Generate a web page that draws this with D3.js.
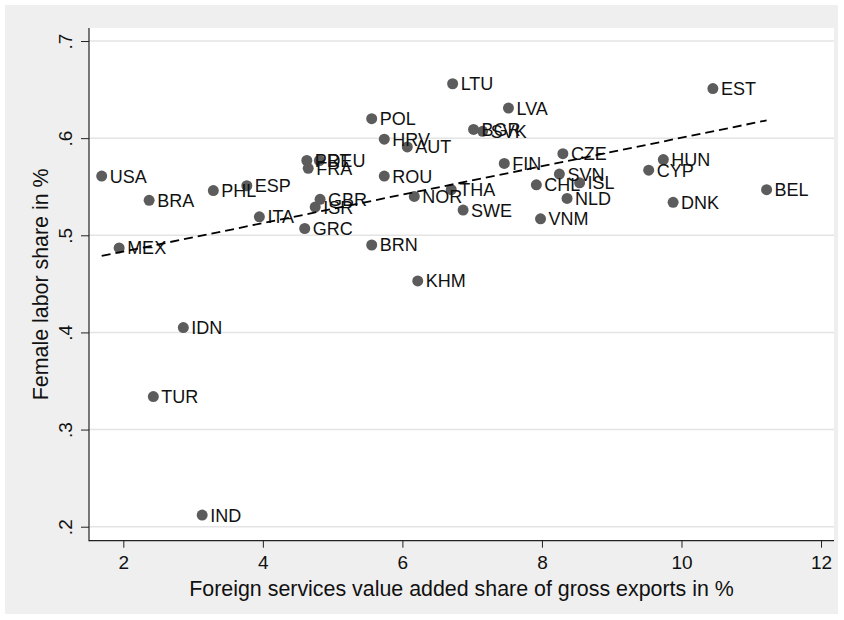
<!DOCTYPE html>
<html>
<head>
<meta charset="utf-8">
<script src="https://cdn.jsdelivr.net/npm/d3@7"></script>
<style>
  html, body { margin: 0; padding: 0; background: #ffffff; }
  svg { display: block; }
  text { font-family: "Liberation Sans", Arial, Helvetica, sans-serif; }
</style>
</head>
<body>
<svg id="chart" width="844" height="620"></svg>
<script>
// ---- data ----
const countries = ["USA","MEX","BRA","TUR","IDN","IND","PHL","ESP","ITA","GRC",
  "PRT","DEU","FRA","GBR","ISR","POL","HRV","AUT","ROU","BRN","NOR","KHM",
  "LTU","THA","SWE","BGR","SVK","LVA","FIN","CHL","CZE","SVN","ISL","NLD",
  "VNM","CYP","HUN","DNK","BEL","EST"];
const servicesShare = [1.69,1.94,2.37,2.43,2.86,3.13,3.29,3.77,3.95,4.60,
  4.63,4.81,4.65,4.82,4.75,5.56,5.74,6.07,5.74,5.56,6.17,6.22,
  6.72,6.70,6.87,7.02,7.15,7.52,7.46,7.92,8.30,8.25,8.54,8.36,
  7.98,9.53,9.74,9.88,11.22,10.45];
const femaleShare = [0.561,0.487,0.536,0.334,0.405,0.212,0.546,0.551,0.519,0.507,
  0.577,0.577,0.569,0.537,0.529,0.620,0.599,0.591,0.561,0.490,0.540,0.453,
  0.656,0.547,0.526,0.609,0.607,0.631,0.574,0.552,0.584,0.563,0.554,0.538,
  0.517,0.567,0.578,0.534,0.547,0.651];
// fitted line endpoints
const fitX = [1.69, 11.22];
const fitY = [0.4787, 0.6183];
const xTicks = [2,4,6,8,10,12];
const yTicks = [0.2,0.3,0.4,0.5,0.6,0.7];
const yTickLabels = [".2",".3",".4",".5",".6",".7"];
const xTitle = "Foreign services value added share of gross exports in %";
const yTitle = "Female labor share in %";

// ---- layout ----
const svg = d3.select("#chart");
const L = 89, R = 834, T = 28, B = 540.7;
const x = d3.scaleLinear().domain([1.508, 12.186]).range([L, R]);
const y = d3.scaleLinear().domain([0.1856, 0.7134]).range([B, T]);

svg.append("rect").attr("x",5).attr("y",5).attr("width",833).attr("height",609)
  .attr("fill","#efefef");
svg.append("rect").attr("x",L).attr("y",T).attr("width",R-L).attr("height",B-T)
  .attr("fill","#ffffff");

// gridlines
svg.append("g").selectAll("line").data(yTicks).join("line")
  .attr("x1", L).attr("x2", R)
  .attr("y1", d => y(d)).attr("y2", d => y(d))
  .attr("stroke", "#e4e4e4").attr("stroke-width", 1.5);

// axes
const yAxis = svg.append("g").attr("transform", `translate(${L},0)`)
  .call(d3.axisLeft(y).tickValues(yTicks).tickSize(8).tickPadding(14)
    .tickFormat((d,i) => yTickLabels[i]));
yAxis.select(".domain").remove();
yAxis.selectAll(".tick line").attr("stroke","#222");
yAxis.selectAll(".tick text")
  .attr("font-size", 19).attr("fill","#111")
  .attr("transform", "rotate(-90)")
  .attr("x", 0).attr("y", -17).attr("dy", 0)
  .attr("text-anchor","middle");

const xAxis = svg.append("g").attr("transform", `translate(0,${B})`)
  .call(d3.axisBottom(x).tickValues(xTicks).tickSize(7).tickPadding(8)
    .tickFormat(d3.format("d")));
xAxis.select(".domain").remove();
xAxis.selectAll(".tick line").attr("stroke","#222");
xAxis.selectAll(".tick text").attr("font-size", 19).attr("fill","#111");

svg.append("line").attr("x1",L).attr("x2",L).attr("y1",T).attr("y2",B+0.5)
  .attr("stroke","#222").attr("stroke-width",1.2);
svg.append("line").attr("x1",L).attr("x2",R).attr("y1",B).attr("y2",B)
  .attr("stroke","#222").attr("stroke-width",1.2);

// titles
svg.append("text").attr("x", (L+R)/2).attr("y", 596)
  .attr("text-anchor","middle").attr("font-size",21.4).attr("fill","#111")
  .text(xTitle);
svg.append("text").attr("transform", `translate(48,${(T+B)/2}) rotate(-90)`)
  .attr("text-anchor","middle").attr("font-size",21.4).attr("fill","#111")
  .text(yTitle);

// points + labels
const pts = countries.map((c,i) => ({c, x: servicesShare[i], y: femaleShare[i]}));
const g = svg.append("g");
g.selectAll("circle").data(pts).join("circle")
  .attr("cx", d => x(d.x)).attr("cy", d => y(d.y)).attr("r", 5.5)
  .attr("fill", "#5c5c5c");
g.selectAll("text").data(pts).join("text")
  .attr("x", d => x(d.x) + 8).attr("y", d => y(d.y))
  .attr("dy", "0.36em").attr("font-size", 18).attr("fill","#111")
  .text(d => d.c);

// fitted line
const line = d3.line().x(d => x(d[0])).y(d => y(d[1]));
svg.append("path").datum(fitX.map((v,i) => [v, fitY[i]]))
  .attr("d", line).attr("fill","none").attr("stroke","#000")
  .attr("stroke-width",1.8).attr("stroke-dasharray","9,5");
</script>
</body>
</html>
